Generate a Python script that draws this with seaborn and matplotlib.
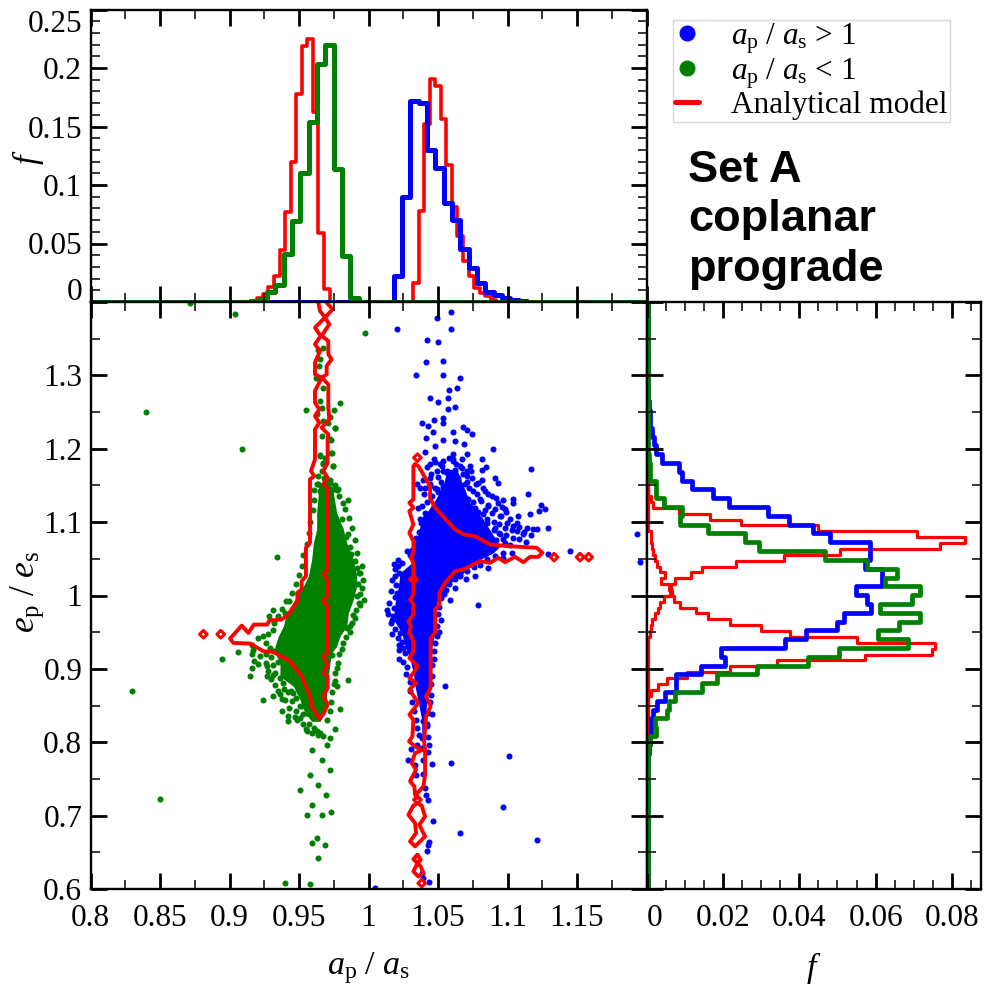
import numpy as np
import seaborn as sns
import matplotlib.pyplot as plt
from matplotlib.lines import Line2D
from matplotlib.transforms import ScaledTranslation

BLUE = '#0000ff'
GREEN = '#008000'
RED = '#ff0000'

# top panel histograms: first edge, bin width, heights
top_red_lo_start, top_red_lo_w = 0.916, 0.004
top_red_lo = [0.001, 0.003, 0.007, 0.0128, 0.022, 0.0446, 0.0767, 0.12, 0.178, 0.2188, 0.225, 0.162, 0.059, 0.011]
top_red_hi_start, top_red_hi_w = 1.032, 0.004
top_red_hi = [0.0162, 0.078, 0.152, 0.1906, 0.185, 0.1565, 0.1168, 0.081, 0.0563, 0.035, 0.022, 0.0122, 0.0077, 0.005, 0.0017]
top_green_start, top_green_w = 0.915, 0.006
top_green = [0.001, 0.0023, 0.0085, 0.0142, 0.0406, 0.0696, 0.11, 0.154, 0.203, 0.2196, 0.1136, 0.039, 0.0037]
top_blue_start, top_blue_w = 1.018, 0.006
top_blue = [0.0219, 0.0895, 0.172, 0.17, 0.13, 0.1145, 0.0847, 0.0705, 0.0449, 0.0293, 0.0165, 0.0088, 0.0057, 0.0037, 0.002, 0.001]

# right panel histograms, ordered from low to high e
right_blue_start, right_blue_w = 0.7845, 0.012
right_blue = [0.0006, 0.0009, 0.0012, 0.0012, 0.0017, 0.0027, 0.0049, 0.0078, 0.0078, 0.0142, 0.0206, 0.0194, 0.0363,
              0.0419, 0.0498, 0.0516, 0.0589, 0.0577, 0.0549, 0.0616, 0.0616, 0.0572, 0.0586, 0.0584, 0.0481, 0.0437,
              0.0372, 0.0318, 0.0215, 0.0174, 0.0118, 0.0092, 0.0085, 0.004, 0.0025, 0.002, 0.0015, 0.001, 0.0008, 0.0006]
right_green_start, right_green_w = 0.7965, 0.012
right_green = [0.001, 0.0025, 0.0023, 0.0053, 0.0058, 0.0075, 0.0145, 0.0184, 0.0289, 0.0424, 0.0503, 0.0686, 0.0606,
               0.0662, 0.0715, 0.0612, 0.0695, 0.0715, 0.0625, 0.0655, 0.0577, 0.0468, 0.0295, 0.0257, 0.0162, 0.0088,
               0.0092, 0.0045, 0.0024, 0.0024, 0.001, 0.0008, 0.0007]
right_red_hi_start, right_red_hi_w = 0.9355, 0.008
right_red_hi = [0.0005, 0.0008, 0.0011, 0.0014, 0.0023, 0.0031, 0.0036, 0.0045, 0.0062, 0.0064, 0.0075, 0.0117, 0.0145,
                0.0235, 0.036, 0.0507, 0.0769, 0.0834, 0.0708, 0.045, 0.0248, 0.0167, 0.0084, 0.0018, 0.0011]
right_red_lo_start, right_red_lo_w = 0.8555, 0.008
right_red_lo = [0.0005, 0.0011, 0.0031, 0.0053, 0.0106, 0.0219, 0.0341, 0.0572, 0.0747, 0.0756, 0.0551, 0.0376, 0.0299,
                0.0219, 0.016, 0.013, 0.0088, 0.0071, 0.0066, 0.0058, 0.0038, 0.0049, 0.0036, 0.0027, 0.0023, 0.0018,
                0.0015, 0.0013, 0.0011]

# analytical model outlines in the a, e plane
contour_lo_a = [0.9639, 0.9651, 0.9687, 0.9615, 0.9656, 0.9615, 0.9651, 0.9615, 0.9615, 0.9663, 0.9615, 0.9615, 0.9646,
                0.9615, 0.9646, 0.9615, 0.9615, 0.9586, 0.961, 0.9579, 0.9579, 0.955, 0.955, 0.9519, 0.9519, 0.9488,
                0.9488, 0.9423, 0.9375, 0.9287, 0.9272, 0.9176, 0.9136, 0.9088, 0.9004, 0.9028, 0.9148, 0.9244, 0.9315,
                0.9435, 0.9519, 0.9579, 0.9591, 0.9646, 0.968, 0.9706, 0.9675, 0.9706, 0.9706, 0.9675, 0.9706, 0.9675,
                0.9706, 0.9706, 0.9675, 0.9706, 0.9706, 0.9675, 0.9706, 0.9706, 0.9675, 0.9706, 0.9675, 0.9706, 0.9706,
                0.9711, 0.9663, 0.9718, 0.9711, 0.9711, 0.9663, 0.9699, 0.9699, 0.9735, 0.9711, 0.9711, 0.9663, 0.9718,
                0.9687, 0.9742, 0.9699]
contour_lo_e = [1.3992, 1.3879, 1.3788, 1.3651, 1.3538, 1.3424, 1.3333, 1.3174, 1.3015, 1.2969, 1.2787, 1.2628, 1.2537,
                1.2446, 1.2355, 1.2264, 1.1855, 1.1696, 1.1628, 1.1582, 1.0718, 1.065, 1.0263, 1.0195, 1.0082, 1.0036,
                0.9922, 0.974, 0.9672, 0.9659, 0.9604, 0.9604, 0.949, 0.959, 0.9413, 0.9354, 0.9345, 0.924, 0.9231,
                0.9104, 0.8899, 0.8626, 0.849, 0.8317, 0.8399, 0.8513, 0.8626, 0.874, 0.8899, 0.8945, 0.9058, 0.9172,
                0.9217, 0.9854, 0.9922, 0.999, 1.0218, 1.0286, 1.0354, 1.1446, 1.1514, 1.1605, 1.1696, 1.181, 1.2128,
                1.2196, 1.2287, 1.2401, 1.256, 1.2878, 1.2969, 1.3015, 1.3128, 1.3219, 1.3287, 1.3469, 1.3538, 1.3697,
                1.3788, 1.3901, 1.3992]
contour_hi_a = [1.0335, 1.0323, 1.0323, 1.0294, 1.0323, 1.0294, 1.0323, 1.0294, 1.0323, 1.0323, 1.0304, 1.0323, 1.0323,
                1.0299, 1.0323, 1.0323, 1.0287, 1.0304, 1.0294, 1.0323, 1.0323, 1.0294, 1.0352, 1.0323, 1.0294, 1.0342,
                1.0294, 1.0359, 1.0294, 1.0323, 1.0316, 1.0292, 1.0335, 1.0383, 1.0335, 1.0311, 1.0342, 1.0299, 1.033,
                1.0335, 1.0352, 1.0342, 1.0395, 1.0407, 1.0407, 1.04, 1.0414, 1.0447, 1.0414, 1.0447, 1.0447, 1.0479,
                1.0479, 1.051, 1.051, 1.0551, 1.0623, 1.0683, 1.0802, 1.0874, 1.0934, 1.0982, 1.1054, 1.1114, 1.1162,
                1.1222, 1.1251, 1.121, 1.1006, 1.0874, 1.0766, 1.0683, 1.0623, 1.0479, 1.0443, 1.0443, 1.0359, 1.0335]
contour_hi_e = [1.1787, 1.1764, 1.1309, 1.1264, 1.1196, 1.115, 1.0968, 1.0855, 1.0741, 1.0582, 1.0514, 1.0445, 1.0013,
                0.9945, 0.9877, 0.974, 0.9649, 0.9581, 0.949, 0.9377, 0.924, 0.9149, 0.9036, 0.8945, 0.8876, 0.8808,
                0.8717, 0.8535, 0.8376, 0.8308, 0.8081, 0.8012, 0.7944, 0.789, 0.7853, 0.7717, 0.7626, 0.7467, 0.7398,
                0.7285, 0.7239, 0.7285, 0.7398, 0.7558, 0.7899, 0.8012, 0.8353, 0.849, 0.8626, 0.874, 0.9422, 0.949,
                0.9809, 0.9877, 1.0036, 1.0172, 1.0332, 1.0354, 1.0468, 1.0445, 1.0514, 1.0454, 1.0527, 1.0454, 1.0527,
                1.0527, 1.0582, 1.065, 1.0673, 1.0695, 1.0809, 1.0832, 1.09, 1.1196, 1.1332, 1.1491, 1.1764, 1.1787]
lobe_a = [1.0323, 1.0287, 1.0335, 1.0342, 1.0299, 1.0335, 1.0407, 1.0366, 1.0407, 1.0383, 1.0352, 1.0323]
lobe_e = [0.7135, 0.7012, 0.6898, 0.6762, 0.6648, 0.658, 0.6716, 0.6875, 0.6989, 0.7135, 0.7171, 0.7135]
blob_a = [1.0352, 1.0376, 1.0352, 1.0376, 1.0395, 1.0359, 1.0323, 1.0352, 1.0323, 1.0352]
blob_e = [0.6466, 0.6398, 0.6352, 0.6307, 0.6216, 0.617, 0.6239, 0.6352, 0.6407, 0.6466]
island_a = [0.8812, 0.8937, 1.1335, 1.1522, 1.1584, 1.0352, 1.0323, 1.0383, 1.0352]
island_e = [0.9472, 0.9472, 1.0523, 1.0523, 1.0523, 1.1878, 1.0218, 0.6079, 0.7216]

# solid part of the point clouds: e, left edge, right edge
core_green_e = [1.1537, 1.14, 1.1128, 1.09, 1.0718, 1.0491, 1.0263, 1.0127, 0.9945, 0.9763, 0.9581, 0.9445, 0.9308,
                0.9217, 0.9081, 0.8899, 0.8763, 0.8581, 0.8399, 0.8285]
core_green_l = [0.9639, 0.9639, 0.9627, 0.9627, 0.9603, 0.9591, 0.9567, 0.9531, 0.9471, 0.9411, 0.9387, 0.9351, 0.9327,
                0.9327, 0.9363, 0.9363, 0.9459, 0.9507, 0.9543, 0.9591]
core_green_r = [0.9723, 0.9747, 0.9771, 0.9819, 0.9843, 0.9891, 0.9915, 0.9915, 0.9891, 0.9855, 0.9843, 0.9795, 0.9771,
                0.9735, 0.9723, 0.9711, 0.9699, 0.9699, 0.9687, 0.9651]
core_blue_e = [1.1719, 1.1491, 1.1264, 1.1037, 1.0855, 1.0673, 1.0582, 1.0445, 1.0309, 1.0127, 0.99, 0.9672, 0.949,
               0.9308, 0.9127, 0.8945, 0.8763, 0.8535, 0.8308, 0.808]
core_blue_l = [1.0563, 1.0539, 1.0467, 1.0383, 1.0359, 1.0335, 1.0323, 1.0311, 1.0227, 1.0215, 1.0191, 1.0179, 1.0239,
               1.0263, 1.0299, 1.0323, 1.0335, 1.0359, 1.0383, 1.0383]
core_blue_r = [1.0635, 1.0683, 1.073, 1.0826, 1.0886, 1.0946, 1.0898, 1.0754, 1.0683, 1.0563, 1.0491, 1.0491, 1.0479,
               1.0455, 1.0443, 1.0443, 1.0431, 1.0419, 1.0407, 1.0407]

# single points around the clouds
green_a = [0.904, 0.8716, 0.84, 0.83, 0.85, 0.94, 0.958, 0.9088, 0.9339, 0.8944, 0.9064, 0.9975,
           0.916, 0.9176, 0.916, 0.9208, 0.9148, 0.9267, 0.9244, 0.9315, 0.9351, 0.9375, 0.9375, 0.9423, 0.9423, 0.9483,
           0.9531, 0.9555, 0.9591, 0.9651, 0.9723, 0.9759, 0.9795, 0.985, 0.9759, 0.9771, 0.9771, 0.9735, 0.9807, 0.9867,
           0.9843, 0.9886, 0.9939, 0.9968, 0.9915, 0.9927, 0.9939, 0.9915, 0.9872, 0.9855, 0.9795, 0.9807, 0.9819, 0.9783,
           0.9747, 0.9759, 0.9723, 0.9735, 0.9747, 0.9675, 0.9651, 0.9431, 0.9311, 0.9287, 0.9399, 0.9244, 0.9208, 0.916,
           0.9172, 0.922, 0.9272, 0.9315, 0.9387, 0.9459, 0.9507, 0.9555,
           0.9675, 0.9639, 0.9651, 0.9646, 0.9622, 0.967, 0.9795, 0.9751, 0.9651, 0.9548, 0.9627, 0.9663, 0.9723, 0.9711,
           0.9759, 0.967, 0.9663, 0.9727, 0.9727, 0.9651, 0.9687, 0.9675, 0.9747, 0.9663, 0.9639, 0.9687, 0.9723, 0.9651,
           0.9735, 0.9775,
           0.9637, 0.9701, 0.9593, 0.9665, 0.9723, 0.9579, 0.9637, 0.9507, 0.9694, 0.9593, 0.9665, 0.9558, 0.973, 0.9629,
           0.9593, 0.9687, 0.9637,
           0.985, 0.983, 0.986, 0.988, 0.984, 0.99, 0.987, 0.992, 0.99, 0.995, 0.993, 0.996, 0.995, 0.994, 0.993, 0.991,
           0.99, 0.988, 0.987, 0.984, 0.982, 0.979, 0.978, 0.976, 0.975, 0.974, 0.973, 0.972, 0.97,
           0.979, 0.976, 0.972, 0.968, 0.964, 0.963, 0.961, 0.961, 0.96, 0.958, 0.957, 0.956, 0.953, 0.952, 0.95, 0.948,
           0.945, 0.941, 0.938, 0.935, 0.932, 0.931, 0.928,
           0.926, 0.929, 0.926, 0.93, 0.926, 0.931, 0.928, 0.933, 0.93, 0.936, 0.933, 0.939, 0.936, 0.942, 0.94, 0.945,
           0.943, 0.948, 0.947, 0.951, 0.953, 0.957, 0.961, 0.955, 0.963, 0.967, 0.935, 0.932, 0.939, 0.944, 0.948, 0.952,
           0.956]
green_e = [1.3834, 1.398, 1.25, 0.8704, 0.723, 0.6085, 0.607, 1.1992, 1.0527, 0.9136, 0.9226, 1.3583,
           0.9208, 0.9104, 0.9013, 0.9067, 0.8899, 0.8899, 0.8581, 0.8635, 0.8694, 0.859, 0.8421, 0.8353, 0.8285, 0.8308,
           0.8253, 0.8149, 0.8126, 0.8126, 0.8058, 0.818, 0.8453, 0.8854, 0.8831, 0.8763, 0.9013, 0.9195, 0.9272, 0.9581,
           0.9559, 0.974, 0.9877, 0.9936, 0.999, 1.015, 1.0309, 1.0377, 1.0559, 1.0832, 1.0923, 1.1046, 1.1264, 1.1446,
           1.1446, 1.2287, 1.2128, 1.1946, 1.1764, 1.181, 1.1901, 0.9922, 0.9809, 0.9718, 0.9763, 0.9445, 0.9422, 0.9331,
           0.9263, 0.9172, 0.9036, 0.8922, 0.8808, 0.8672, 0.849, 0.8399,
           1.3378, 1.3347, 1.3219, 1.3128, 1.296, 1.2823, 1.2619, 1.2528, 1.2651, 1.2528, 1.2469, 1.256, 1.2432, 1.2355,
           1.2287, 1.2378, 1.2173, 1.2114, 1.1946, 1.1909, 1.1877, 1.1786, 1.1764, 1.1696, 1.1514, 1.1559, 1.1536, 1.1423,
           1.1436, 1.1436,
           0.8104, 0.7967, 0.7899, 0.7763, 0.7626, 0.7558, 0.7422, 0.7353, 0.7285, 0.7149, 0.7012, 0.7012, 0.7053, 0.6699,
           0.663, 0.6603, 0.6426,
           1.13, 1.118, 1.105, 1.092, 1.08, 1.075, 1.066, 1.058, 1.047, 1.04, 1.03, 1.021, 1.01, 1.002, 0.99, 0.98,
           0.97, 0.962, 0.95, 0.943, 0.935, 0.92, 0.908, 0.895, 0.88, 0.868, 0.855, 0.842, 0.83,
           1.136, 1.15, 1.158, 1.16, 1.163, 1.152, 1.144, 1.13, 1.116, 1.1, 1.085, 1.07, 1.055, 1.04, 1.028, 1.015,
           1.003, 0.992, 0.982, 0.972, 0.962, 0.953, 0.948,
           0.935, 0.929, 0.92, 0.916, 0.908, 0.905, 0.897, 0.895, 0.886, 0.888, 0.878, 0.873, 0.866, 0.868, 0.858, 0.856,
           0.847, 0.842, 0.835, 0.833, 0.838, 0.825, 0.82, 0.818, 0.815, 0.808, 0.91, 0.925, 0.9, 0.87, 0.86, 0.85,
           0.84]
blue_a = [1.0596, 1.049, 1.0207, 1.0591, 1.0418, 1.05, 1.0413, 1.0533, 1.0341, 1.0533, 1.0658, 1.0579, 1.0634, 1.0442,
          1.0574, 1.0502, 1.0622, 1.0574, 1.0382, 1.0471, 1.0538, 1.0533, 1.043, 1.0461, 1.061, 1.0682, 1.071, 1.0742,
          1.0413, 1.0538, 1.0478, 1.0622, 1.0687, 1.0406, 1.061, 1.0706, 1.0538, 1.0471, 1.061, 1.073, 1.067, 1.0442,
          1.049, 1.0562, 1.0706, 1.061, 1.0346, 1.0442, 1.0538, 1.0658,
          1.1013, 1.0594, 1.0455, 1.097, 1.0467, 1.0659, 1.121, 1.0438, 1.0426, 1.0419, 1.0383, 1.0395, 1.0436, 1.0431,
          1.0414, 1.0407, 1.0287, 1.0304, 1.0438, 1.0431, 1.0426, 1.0383, 1.0347, 1.0383, 1.0395, 1.0335, 1.039, 1.0342,
          1.039, 1.0419, 1.0047, 1.1932, 1.1953,
          1.0898, 1.0814, 1.0846, 1.0814, 1.1167, 1.091, 1.0929, 1.115, 1.1042, 1.097, 1.0934, 1.0862, 1.0822, 1.079,
          1.0742, 1.0707, 1.0659, 1.0611, 1.0515, 1.0539, 1.0599, 1.0647, 1.0695, 1.0754, 1.0802, 1.0862, 1.091, 1.0982,
          1.1042, 1.1078, 1.1162, 1.1241, 1.127, 1.1229, 1.1294, 1.1215, 1.1181, 1.1138, 1.1114, 1.1066, 1.1042, 1.0994,
          1.0946, 1.091, 1.0946, 1.097, 1.103, 1.145, 1.1294, 1.079, 1.0587, 1.0551, 1.0495, 1.0131, 1.0184, 1.0215,
          1.0275, 1.022, 1.0222, 1.0246, 1.0455, 1.0623, 1.0702, 1.0766, 1.0659, 1.0862, 1.0802, 1.097, 1.0659, 1.0587,
          1.0635, 1.0718, 1.0766, 1.0826, 1.0695, 1.0635, 1.0563, 1.0515, 1.0575, 1.0754, 1.085, 1.0383, 1.0359, 1.0407,
          1.0371, 1.0407, 1.0371, 1.0443, 1.0491, 1.0539, 1.0191, 1.0203, 1.0179, 1.0167, 1.0227,
          1.042, 1.048, 1.053, 1.058, 1.063, 1.067, 1.045, 1.05, 1.056, 1.062, 1.068, 1.074, 1.039, 1.044, 1.048, 1.052,
          1.057, 1.064, 1.071, 1.077, 1.082, 1.04, 1.046, 1.05, 1.055, 1.06, 1.067, 1.072, 1.078, 1.084, 1.089, 1.042,
          1.047, 1.052, 1.058, 1.063, 1.07, 1.075, 1.081, 1.086, 1.092, 1.096, 1.041, 1.045, 1.074, 1.079, 1.084, 1.089,
          1.095, 1.099, 1.102, 1.107, 1.038, 1.085, 1.09, 1.094, 1.098, 1.103, 1.108, 1.112, 1.117, 1.09, 1.094, 1.099,
          1.104, 1.108, 1.113, 1.098, 1.102, 1.092, 1.086, 1.036, 1.034, 1.034, 1.031, 1.03,
          1.08, 1.076, 1.071, 1.066, 1.062, 1.058, 1.056, 1.054, 1.052, 1.067, 1.085, 1.091, 1.097, 1.073, 1.06, 1.055,
          1.021, 1.024, 1.019, 1.022, 1.017, 1.02, 1.016, 1.019, 1.015, 1.018, 1.014, 1.016, 1.019, 1.017, 1.021, 1.024,
          1.022, 1.026, 1.025, 1.028, 1.027, 1.03,
          1.051, 1.05, 1.052, 1.049, 1.051, 1.048, 1.047, 1.047, 1.046, 1.046, 1.045, 1.045, 1.044, 1.043, 1.042, 1.03,
          1.031, 1.033, 1.034, 1.035, 1.036]
blue_e = [1.3865, 1.3788, 1.3638, 1.3638, 1.3478, 1.3451, 1.3187, 1.3196, 1.2999, 1.301, 1.296, 1.2796, 1.2823, 1.2696,
          1.2687, 1.2642, 1.2573, 1.2537, 1.2355, 1.2387, 1.2423, 1.2355, 1.231, 1.2232, 1.2232, 1.2296, 1.225, 1.2196,
          1.215, 1.2114, 1.2037, 1.2105, 1.2059, 1.1955, 1.1932, 1.1923, 1.1832, 1.1855, 1.1832, 1.1764, 1.1741, 1.1786,
          1.1695, 1.1695, 1.1627, 1.1582, 1.1514, 1.1491, 1.1468, 1.1468,
          0.7817, 0.7717, 0.7707, 0.7116, 0.6925, 0.6761, 0.667, 0.6647, 0.6602, 0.652, 0.6224, 0.6147, 0.61, 0.7216,
          0.7284, 0.7375, 0.7753, 0.7908, 0.7967, 0.8071, 0.7862, 0.8058, 0.7967, 0.7921, 0.7762, 0.7694, 0.7571, 0.7557,
          0.8285, 0.8217, 0.6016, 1.0832, 1.0454,
          1.2001, 1.1864, 1.1751, 1.1705, 1.1719, 1.1605, 1.1528, 1.1378, 1.1319, 1.1296, 1.1264, 1.1378, 1.1469, 1.1537,
          1.1605, 1.1696, 1.1764, 1.1855, 1.1787, 1.1696, 1.1673, 1.1605, 1.1514, 1.1423, 1.1309, 1.1219, 1.1173, 1.1173,
          1.1264, 1.1082, 1.1105, 1.1232, 1.1173, 1.115, 1.0923, 1.0909, 1.0909, 1.0923, 1.0832, 1.0877, 1.0946, 1.0991,
          1.1082, 1.0923, 1.0832, 1.0764, 1.0573, 1.0605, 1.0559, 0.9877, 0.9936, 0.8772, 0.9445, 0.9809, 1.0432, 1.04,
          1.0605, 0.9136, 0.9331, 0.9286, 0.8385, 1.0104, 1.0227, 1.0263, 1.0263, 1.0368, 1.0536, 1.0582, 1.1355, 1.1537,
          1.1446, 1.1309, 1.1196, 1.1105, 1.115, 1.115, 1.1309, 1.1332, 1.1173, 1.1037, 1.0991, 1.1219, 1.1196, 1.1059,
          1.1037, 1.1469, 1.1469, 1.1605, 1.1446, 1.1491, 1.0263, 1.0036, 0.9718, 0.9672, 0.949,
          1.175, 1.182, 1.176, 1.188, 1.179, 1.186, 1.166, 1.161, 1.168, 1.171, 1.166, 1.169, 1.158, 1.152, 1.147, 1.155,
          1.158, 1.159, 1.155, 1.152, 1.158, 1.139, 1.136, 1.141, 1.138, 1.147, 1.142, 1.146, 1.139, 1.143, 1.136, 1.127,
          1.122, 1.129, 1.128, 1.133, 1.131, 1.127, 1.129, 1.124, 1.133, 1.121, 1.113, 1.109, 1.119, 1.114, 1.116, 1.112,
          1.109, 1.114, 1.104, 1.099, 1.099, 1.104, 1.1, 1.097, 1.092, 1.089, 1.094, 1.087, 1.082, 1.089, 1.085, 1.082,
          1.079, 1.077, 1.073, 1.072, 1.069, 1.075, 1.08, 1.087, 1.079, 1.07, 1.062, 1.055,
          1.042, 1.039, 1.033, 1.029, 1.022, 1.016, 1.008, 1.002, 0.996, 1.036, 1.05, 1.054, 1.051, 1.047, 1.03, 1.02,
          1.048, 1.044, 1.036, 1.03, 1.021, 1.014, 1.006, 0.998, 0.99, 0.983, 0.975, 0.962, 0.955, 0.948, 0.942, 0.936,
          0.926, 0.921, 0.91, 0.903, 0.893, 0.882,
          0.985, 0.975, 0.967, 0.958, 0.95, 0.935, 0.925, 0.914, 0.905, 0.89, 0.88, 0.865, 0.855, 0.84, 0.825, 0.87,
          0.855, 0.842, 0.83, 0.82, 0.81]

xticks_main = [0.8, 0.85, 0.9, 0.95, 1, 1.05, 1.1, 1.15, 1.2]
xlabels_main = ['0.8', '0.85', '0.9', '0.95', '1', '1.05', '1.1', '1.15', '']
yticks_main = [0.6, 0.7, 0.8, 0.9, 1, 1.1, 1.2, 1.3, 1.4]
ylabels_main = ['0.6', '0.7', '0.8', '0.9', '1', '1.1', '1.2', '1.3', '']
yticks_top = [0, 0.05, 0.1, 0.15, 0.2, 0.25]
ylabels_top = ['0', '0.05', '0.1', '0.15', '0.2', '0.25']
xticks_right = [0, 0.02, 0.04, 0.06, 0.08]
xlabels_right = ['0', '0.02', '0.04', '0.06', '0.08']

sns.set_theme(style='ticks', rc={'text.color': 'black', 'axes.labelcolor': 'black', 'axes.edgecolor': 'black',
                                 'xtick.color': 'black', 'ytick.color': 'black'})
plt.rcParams['font.family'] = ['Liberation Serif', 'DejaVu Serif']
plt.rcParams['mathtext.fontset'] = 'custom'
plt.rcParams['mathtext.rm'] = 'Liberation Serif'
plt.rcParams['mathtext.it'] = 'Liberation Serif:italic'
plt.rcParams['axes.axisbelow'] = False
plt.rcParams['axes.linewidth'] = 1.7

LABEL_SIZE = 22.5
W, H = 985, 984

fig = plt.figure(figsize=(W / 100, H / 100), dpi=100)
ax_top = fig.add_axes([90.5 / W, (H - 302) / H, 556 / W, 292.5 / H])
ax_main = fig.add_axes([90.5 / W, (H - 889) / H, 556 / W, 587 / H])
ax_right = fig.add_axes([646.5 / W, (H - 889) / H, 334.5 / W, 587 / H])


def draw_hist(ax, start, width, heights, color, lw, lo, hi, vertical=False):
    edges = start + width * np.arange(len(heights) + 1)
    edges = np.concatenate([[lo], edges, [hi]])
    vals = np.concatenate([[0.0], heights, [0.0]])
    if vertical:
        vals[0] = vals[-1] = 0.0004
    mids = (edges[:-1] + edges[1:]) / 2
    if vertical:
        sns.histplot(y=mids, weights=vals, bins=edges.tolist(), element='step', fill=False,
                     color=color, linewidth=lw, ax=ax)
    else:
        sns.histplot(x=mids, weights=vals, bins=edges.tolist(), element='step', fill=False,
                     color=color, linewidth=lw, ax=ax)


# top panel
draw_hist(ax_top, top_red_lo_start, top_red_lo_w, top_red_lo, RED, 2.6, 0.8, 1.2)
draw_hist(ax_top, top_red_hi_start, top_red_hi_w, top_red_hi, RED, 2.6, 0.8, 1.2)
draw_hist(ax_top, top_blue_start, top_blue_w, top_blue, BLUE, 3.6, 0.8, 1.2)
draw_hist(ax_top, top_green_start, top_green_w, top_green, GREEN, 3.6, 0.8, 1.2)

# main panel
ax_main.fill_betweenx(core_green_e, core_green_l, core_green_r, color=GREEN, linewidth=0)
ax_main.fill_betweenx(core_blue_e, core_blue_l, core_blue_r, color=BLUE, linewidth=0)
sns.scatterplot(x=green_a, y=green_e, color=GREEN, s=19, linewidth=0, ax=ax_main)
sns.scatterplot(x=blue_a, y=blue_e, color=BLUE, s=19, linewidth=0, ax=ax_main)
for xs, ys in [(contour_lo_a, contour_lo_e), (contour_hi_a, contour_hi_e), (lobe_a, lobe_e), (blob_a, blob_e)]:
    sns.lineplot(x=xs, y=ys, sort=False, estimator=None, color=RED, linewidth=2.8, ax=ax_main)
sns.scatterplot(x=island_a, y=island_e, marker='D', s=15, facecolors='none', edgecolors=RED, linewidth=2.2, ax=ax_main)

# right panel
draw_hist(ax_right, right_red_hi_start, right_red_hi_w, right_red_hi, RED, 2.3, 0.6, 1.4, True)
draw_hist(ax_right, right_red_lo_start, right_red_lo_w, right_red_lo, RED, 2.3, 0.6, 1.4, True)
draw_hist(ax_right, right_blue_start, right_blue_w, right_blue, BLUE, 3.4, 0.6, 1.4, True)
draw_hist(ax_right, right_green_start, right_green_w, right_green, GREEN, 3.4, 0.6, 1.4, True)

ax_top.set_xlim(0.8, 1.2)
ax_top.set_ylim(0, 0.25)
ax_main.set_xlim(0.8, 1.2)
ax_main.set_ylim(0.6, 1.4)
ax_right.set_xlim(0, 0.0876)
ax_right.set_ylim(0.6, 1.4)

ax_top.set_xticks(xticks_main, [''] * len(xticks_main))
ax_top.set_xticks(np.arange(0.825, 1.2, 0.05), minor=True)
ax_top.set_yticks(yticks_top, ylabels_top)
ax_top.set_yticks(np.arange(0, 0.25, 0.01), minor=True)
ax_main.set_xticks(xticks_main, xlabels_main)
ax_main.set_xticks(np.arange(0.825, 1.2, 0.05), minor=True)
ax_main.set_yticks(yticks_main, ylabels_main)
ax_main.set_yticks(np.arange(0.65, 1.4, 0.1), minor=True)
ax_right.set_xticks(xticks_right, xlabels_right)
ax_right.set_xticks(np.arange(0, 0.0876, 0.005), minor=True)
ax_right.set_yticks(yticks_main, [''] * len(yticks_main))
ax_right.set_yticks(np.arange(0.65, 1.4, 0.1), minor=True)

for ax in [ax_top, ax_main, ax_right]:
    ax.tick_params(which='major', direction='in', top=True, right=True, length=11.5, width=2,
                   labelsize=LABEL_SIZE, color='black')
    ax.tick_params(which='minor', direction='in', top=True, right=True, length=6.5, width=1.1, color='black')
    ax.tick_params(axis='x', which='major', pad=11)
    ax.tick_params(axis='y', which='major', pad=6)
    for side in ax.spines.values():
        side.set_zorder(5)

ax_top.get_yticklabels()[0].set_va('bottom')
ax_top.get_yticklabels()[0].set_transform(
    ax_top.get_yticklabels()[0].get_transform() + ScaledTranslation(0, -5 / 100, fig.dpi_scale_trans))
ax_top.get_yticklabels()[-1].set_va('top')
ax_right.get_xticklabels()[0].set_ha('left')

ax_top.set_xlabel('')
ax_top.set_ylabel(r'$f$', fontsize=LABEL_SIZE + 2)
ax_top.yaxis.set_label_coords(-0.08, 0.496)
ax_main.set_xlabel(r'$a_{\mathrm{p}}\ /\ a_{\mathrm{s}}$', fontsize=LABEL_SIZE + 2, labelpad=12)
ax_main.set_ylabel(r'$e_{\mathrm{p}}\ /\ e_{\mathrm{s}}$', fontsize=LABEL_SIZE + 3)
ax_main.yaxis.set_label_coords(-0.08, 0.506)
ax_right.set_xlabel(r'$f$', fontsize=LABEL_SIZE + 2, labelpad=12)
ax_right.set_ylabel('')

handles = [
    Line2D([], [], linestyle='none', marker='o', color=BLUE, markersize=10.5),
    Line2D([], [], linestyle='none', marker='o', color=GREEN, markersize=10.5),
    Line2D([], [], color=RED, linewidth=3.6),
]
names = [r'$a_{\mathrm{p}}\ /\ a_{\mathrm{s}}$ > 1', r'$a_{\mathrm{p}}\ /\ a_{\mathrm{s}}$ < 1', 'Analytical model']
fig.legend(handles, names, loc='upper left', bbox_to_anchor=(673 / W, 1 - 19.5 / H), bbox_transform=fig.transFigure,
           fontsize=LABEL_SIZE, frameon=True, fancybox=False, framealpha=1, edgecolor='#d8d8d8',
           borderpad=0.05, borderaxespad=0, handlelength=0.77, handletextpad=1.05, labelspacing=0.01)

fig.text(688 / W, 1 - 170 / H, 'Set A', fontfamily='Liberation Sans', fontweight='bold', fontsize=32.5, va='center')
fig.text(688 / W, 1 - 220 / H, 'coplanar', fontfamily='Liberation Sans', fontweight='bold', fontsize=32.5, va='center')
fig.text(688 / W, 1 - 270 / H, 'prograde', fontfamily='Liberation Sans', fontweight='bold', fontsize=32.5, va='center')

fig.savefig('out.png', dpi=100)
plt.close(fig)
